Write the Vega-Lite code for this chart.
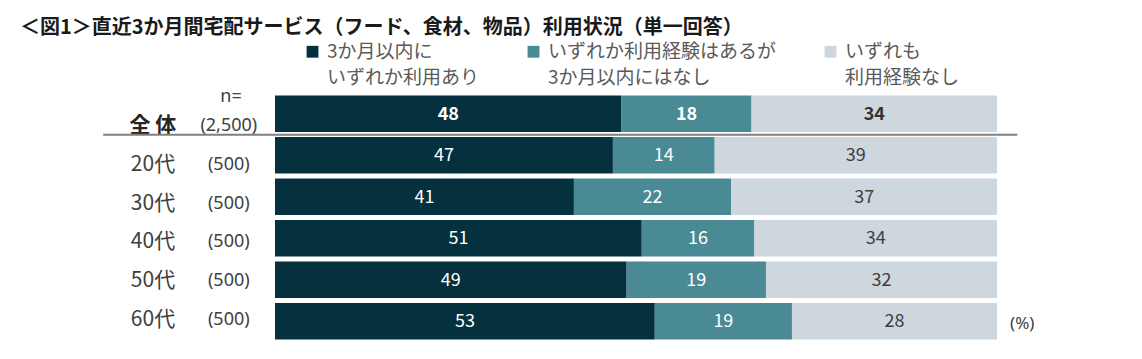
{
  "$schema": "https://vega.github.io/schema/vega-lite/v6.json",
  "width": 722,
  "height": 249,
  "autosize": "none",
  "padding": {"left": 275, "top": 93, "right": 145, "bottom": 17},
  "background": "white",
  "config": {
    "view": {"stroke": null},
    "font": "Noto Sans CJK JP",
    "style": {"guide-label": {"lineHeight": 26}}
  },
  "title": {
    "text": "＜図1＞直近3か月間宅配サービス（フード、食材、物品）利用状況（単一回答）",
    "anchor": "start",
    "frame": "group",
    "dx": -255,
    "fontSize": 20,
    "fontWeight": "bold",
    "color": "#1a1a1a",
    "font": "Noto Sans CJK JP"
  },
  "datasets": {
    "shares": [
      {"group": "全体", "cat": "3か月以内にいずれか利用あり", "value": 48.0},
      {"group": "全体", "cat": "いずれか利用経験はあるが3か月以内にはなし", "value": 18.0},
      {"group": "全体", "cat": "いずれも利用経験なし", "value": 34.0},
      {"group": "20代", "cat": "3か月以内にいずれか利用あり", "value": 46.8},
      {"group": "20代", "cat": "いずれか利用経験はあるが3か月以内にはなし", "value": 14.1},
      {"group": "20代", "cat": "いずれも利用経験なし", "value": 39.1},
      {"group": "30代", "cat": "3か月以内にいずれか利用あり", "value": 41.4},
      {"group": "30代", "cat": "いずれか利用経験はあるが3か月以内にはなし", "value": 21.8},
      {"group": "30代", "cat": "いずれも利用経験なし", "value": 36.8},
      {"group": "40代", "cat": "3か月以内にいずれか利用あり", "value": 50.8},
      {"group": "40代", "cat": "いずれか利用経験はあるが3か月以内にはなし", "value": 15.6},
      {"group": "40代", "cat": "いずれも利用経験なし", "value": 33.6},
      {"group": "50代", "cat": "3か月以内にいずれか利用あり", "value": 48.7},
      {"group": "50代", "cat": "いずれか利用経験はあるが3か月以内にはなし", "value": 19.3},
      {"group": "50代", "cat": "いずれも利用経験なし", "value": 32.0},
      {"group": "60代", "cat": "3か月以内にいずれか利用あり", "value": 52.6},
      {"group": "60代", "cat": "いずれか利用経験はあるが3か月以内にはなし", "value": 19.0},
      {"group": "60代", "cat": "いずれも利用経験なし", "value": 28.4}
    ],
    "rows": [
      {"group": "全体", "label": "全 体", "n": "(2,500)"},
      {"group": "20代", "label": "20代", "n": "(500)"},
      {"group": "30代", "label": "30代", "n": "(500)"},
      {"group": "40代", "label": "40代", "n": "(500)"},
      {"group": "50代", "label": "50代", "n": "(500)"},
      {"group": "60代", "label": "60代", "n": "(500)"}
    ]
  },
  "resolve": {"scale": {"y": "independent"}},
  "layer": [
    {
      "data": {"name": "shares"},
      "transform": [
        {"stack": "value", "groupby": ["group"], "sort": [{"field": "cat", "order": "ascending"}], "as": ["v0", "v1"]}
      ],
      "mark": {"type": "bar"},
      "encoding": {
        "y": {"field": "group", "type": "nominal", "axis": null, "scale": {"domain": ["全体", "20代", "30代", "40代", "50代", "60代"], "paddingInner": 0.12, "paddingOuter": 0.06}},
        "x": {"field": "v0", "type": "quantitative", "axis": null, "scale": {"domain": [0, 100], "nice": false, "zero": false}},
        "x2": {"field": "v1"},
        "color": {
          "field": "cat",
          "type": "nominal",
          "scale": {
            "domain": ["3か月以内にいずれか利用あり", "いずれか利用経験はあるが3か月以内にはなし", "いずれも利用経験なし"],
            "range": ["#05303e", "#4a8a95", "#ced6de"]
          },
          "legend": {
            "orient": "none",
            "legendX": 28,
            "legendY": -51,
            "direction": "horizontal",
            "columns": 3,
            "title": null,
            "symbolType": "square",
            "symbolSize": 140,
            "symbolStrokeWidth": 0,
            "labelFontSize": 19,
            "labelColor": "#595959",
            "labelFont": "Noto Sans CJK JP",
            "labelLimit": 400,
            "labelOffset": 5,
            "columnPadding": 44,
            "labelExpr": "datum.label == '3か月以内にいずれか利用あり' ? ['3か月以内に', 'いずれか利用あり'] : datum.label == 'いずれも利用経験なし' ? ['いずれも', '利用経験なし'] : ['いずれか利用経験はあるが', '3か月以内にはなし']"
          }
        }
      }
    },
    {
      "data": {"name": "shares"},
      "transform": [
        {"stack": "value", "groupby": ["group"], "sort": [{"field": "cat", "order": "ascending"}], "as": ["v0", "v1"]},
        {"calculate": "(datum.v0 + datum.v1) / 2", "as": "mid"},
        {"filter": "datum.group != '全体'"}
      ],
      "mark": {"type": "text", "fontSize": 18, "baseline": "middle", "align": "center", "font": "Noto Sans CJK JP", "dy": 1},
      "encoding": {
        "y": {"field": "group", "type": "nominal", "axis": null, "scale": {"domain": ["全体", "20代", "30代", "40代", "50代", "60代"], "paddingInner": 0.12, "paddingOuter": 0.06}},
        "x": {"field": "mid", "type": "quantitative"},
        "text": {"field": "value", "type": "quantitative", "format": ".0f"},
        "color": {"condition": {"test": "datum.cat == 'いずれも利用経験なし'", "value": "#404040"}, "value": "white"}
      }
    },
    {
      "data": {"name": "shares"},
      "transform": [
        {"stack": "value", "groupby": ["group"], "sort": [{"field": "cat", "order": "ascending"}], "as": ["v0", "v1"]},
        {"calculate": "(datum.v0 + datum.v1) / 2", "as": "mid"},
        {"filter": "datum.group == '全体'"}
      ],
      "mark": {"type": "text", "fontSize": 18, "fontWeight": "bold", "baseline": "middle", "align": "center", "font": "Noto Sans CJK JP", "dy": 1},
      "encoding": {
        "y": {"field": "group", "type": "nominal", "axis": null, "scale": {"domain": ["全体", "20代", "30代", "40代", "50代", "60代"], "paddingInner": 0.12, "paddingOuter": 0.06}},
        "x": {"field": "mid", "type": "quantitative"},
        "text": {"field": "value", "type": "quantitative", "format": ".0f"},
        "color": {"condition": {"test": "datum.cat == 'いずれも利用経験なし'", "value": "#333333"}, "value": "white"}
      }
    },
    {
      "data": {"name": "rows"},
      "transform": [{"filter": "datum.group != '全体'"}],
      "mark": {"type": "text", "fontSize": 21, "baseline": "middle", "align": "center", "color": "#404040", "font": "Noto Sans CJK JP", "dy": 5.5},
      "encoding": {
        "y": {"field": "group", "type": "nominal", "axis": null, "scale": {"type": "point", "domain": ["全体", "20代", "30代", "40代", "50代", "60代"], "padding": 0.71}},
        "x": {"datum": -16.9, "type": "quantitative"},
        "text": {"field": "label"}
      }
    },
    {
      "data": {"name": "rows"},
      "transform": [{"filter": "datum.group == '全体'"}],
      "mark": {"type": "text", "fontSize": 21, "fontWeight": "bold", "baseline": "middle", "align": "center", "color": "#262626", "font": "Noto Sans CJK JP", "dy": 5.5},
      "encoding": {
        "y": {"field": "group", "type": "nominal", "axis": null, "scale": {"type": "point", "domain": ["全体", "20代", "30代", "40代", "50代", "60代"], "padding": 0.71}},
        "x": {"datum": -16.9, "type": "quantitative"},
        "text": {"field": "label"}
      }
    },
    {
      "data": {"name": "rows"},
      "mark": {"type": "text", "fontSize": 18, "baseline": "middle", "align": "center", "color": "#404040", "font": "Noto Sans", "dy": 5.5},
      "encoding": {
        "y": {"field": "group", "type": "nominal", "axis": null, "scale": {"type": "point", "domain": ["全体", "20代", "30代", "40代", "50代", "60代"], "padding": 0.71}},
        "x": {"datum": -6.4, "type": "quantitative"},
        "text": {"field": "n"}
      }
    },
    {
      "data": {"values": [{"t": "n="}]},
      "mark": {"type": "text", "fontSize": 18, "baseline": "middle", "align": "center", "color": "#404040", "font": "Noto Sans", "dy": -23.5},
      "encoding": {
        "y": {"datum": "全体", "type": "nominal", "axis": null, "scale": {"type": "point", "domain": ["全体", "20代", "30代", "40代", "50代", "60代"], "padding": 0.71}},
        "x": {"datum": -6.1, "type": "quantitative"},
        "text": {"field": "t"}
      }
    },
    {
      "data": {"values": [{"t": "(%)"}]},
      "mark": {"type": "text", "fontSize": 17, "baseline": "middle", "align": "center", "color": "#404040", "font": "Noto Sans", "dy": 3},
      "encoding": {
        "y": {"datum": "60代", "type": "nominal", "axis": null, "scale": {"domain": ["全体", "20代", "30代", "40代", "50代", "60代"], "paddingInner": 0.12, "paddingOuter": 0.06}},
        "x": {"datum": 103.5, "type": "quantitative"},
        "text": {"field": "t"}
      }
    },
    {
      "data": {"values": [{}]},
      "mark": {"type": "rule", "color": "#7f7f7f", "strokeWidth": 2, "yOffset": -2.3},
      "encoding": {
        "y": {"datum": "20代", "type": "nominal", "bandPosition": 0, "axis": null, "scale": {"domain": ["全体", "20代", "30代", "40代", "50代", "60代"], "paddingInner": 0.12, "paddingOuter": 0.06}},
        "x": {"datum": -23.8, "type": "quantitative"},
        "x2": {"datum": 102.8}
      }
    }
  ]
}
